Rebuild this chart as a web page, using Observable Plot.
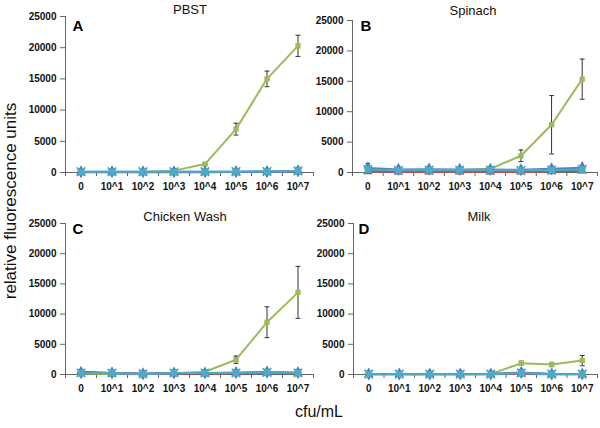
<!DOCTYPE html>
<html><head><meta charset="utf-8">
<script src="https://cdn.jsdelivr.net/npm/d3@7"></script>
<script src="https://cdn.jsdelivr.net/npm/@observablehq/plot@0.6"></script>
<style>
body{margin:0;background:#fff;font-family:"Liberation Sans",Arial,sans-serif}
#wrap{position:relative;width:600px;height:428px;overflow:hidden;background:#fff}
.p{position:absolute}
.t{position:absolute;font-size:13px;transform:translate(-50%,-50%);white-space:nowrap;color:#111}
.l{position:absolute;font-size:15px;font-weight:bold;transform:translate(-50%,-50%);color:#000}
.ax{position:absolute;font-size:16px;white-space:nowrap;color:#111;transform:translate(-50%,-50%)}
</style></head><body><div id="wrap"></div>
<script>
const categories = ["0","10^1","10^2","10^3","10^4","10^5","10^6","10^7"];
const yTicks = [0,5000,10000,15000,20000,25000];
const panelTitles = ["PBST","Spinach","Chicken Wash","Milk"];
const panelLetters = ["A","B","C","D"];
const seriesNames = ["green","red","purple","blue","cyan"];
const seriesColors = ["#9BBB59","#C0504D","#8064A2","#4F81BD","#4BACC6"];

// PBST
const pbstGreen    = [100,100,100,300,1350,6950,15000,20300];
const pbstGreenErr = [50,50,50,80,150,950,1250,1700];
const pbstRed      = [60,60,60,60,60,80,100,150];
const pbstPurple   = [80,80,80,80,80,100,120,200];
const pbstBlue     = [120,120,120,120,120,130,150,250];
const pbstCyan     = [130,130,130,130,130,140,160,250];

// Spinach
const spinGreen    = [300,250,300,350,600,2750,7850,15350];
const spinGreenErr = [150,100,100,100,100,950,4800,3300];
const spinRed      = [150,100,100,100,100,100,150,300];
const spinPurple   = [350,300,350,350,350,300,400,500];
const spinBlue     = [750,500,550,500,500,450,600,800];
const spinBlueErr  = [750,100,100,100,100,100,100,150];
const spinCyan     = [500,350,400,400,400,350,400,500];

// Chicken Wash
const chickGreen    = [150,100,50,200,450,2450,8650,13600];
const chickGreenErr = [100,50,50,50,100,600,2550,4300];
const chickRed      = [450,250,150,200,150,200,250,200];
const chickPurple   = [300,250,100,250,250,300,350,300];
const chickBlue     = [300,250,100,250,250,300,400,300];
const chickCyan     = [250,250,100,250,250,250,350,250];

// Milk
const milkGreen    = [50,50,50,50,100,1850,1650,2300];
const milkGreenErr = [30,30,30,30,30,350,350,850];
const milkRed      = [50,50,50,50,50,100,50,50];
const milkPurple   = [80,80,80,80,80,300,80,80];
const milkBlue     = [80,80,80,80,80,350,80,80];
const milkCyan     = [50,50,50,50,50,250,50,50];

const panels = [
  {series:[pbstGreen,pbstRed,pbstPurple,pbstBlue,pbstCyan], errs:[pbstGreenErr,null,null,null,null],
   left:0, top:0, w:320, h:200, ml:65, mr:7, mt:16, mb:28},
  {series:[spinGreen,spinRed,spinPurple,spinBlue,spinCyan], errs:[spinGreenErr,null,null,spinBlueErr,null],
   left:300, top:0, w:300, h:200, ml:52, mr:3, mt:20, mb:28},
  {series:[chickGreen,chickRed,chickPurple,chickBlue,chickCyan], errs:[chickGreenErr,null,null,null,null],
   left:0, top:200, w:320, h:200, ml:65, mr:7, mt:23, mb:26},
  {series:[milkGreen,milkRed,milkPurple,milkBlue,milkCyan], errs:[milkGreenErr,null,null,null,null],
   left:300, top:200, w:300, h:200, ml:53, mr:3, mt:23, mb:26}
];

const wrap = document.getElementById("wrap");

panels.forEach((p, pi) => {
  const marks = [
    Plot.axisY({ticks: yTicks, tickSize: 5, tickPadding: 4, tickFormat: d => String(d), label: null, stroke:"#666", fill:"#111", fontWeight:"bold"}),
    Plot.axisX({ticks: d3.range(9).map(i => i - 0.5), tickSize: 4, tickFormat: () => "", label: null, stroke:"#666"}),
    Plot.axisX({ticks: d3.range(8), tickSize: 0, tickPadding: 10, tickFormat: i => categories[i], label: null, fill:"#111", fontWeight:"bold"}),
    Plot.ruleX([-0.5], {stroke: "#666"}),
    Plot.ruleY([0], {stroke: "#666"})
  ];
  p.series.forEach((vals, si) => {
    const rows = vals.map((v, i) => ({i, v, e: p.errs[si] ? p.errs[si][i] : 0}));
    const c = seriesColors[si];
    if (p.errs[si]) {
      marks.push(Plot.ruleX(rows, {x: "i", y1: d => d.v - d.e, y2: d => d.v + d.e, stroke: "#333", strokeWidth: 1}));
      marks.push(Plot.link(rows, {x1: d => d.i - 0.08, x2: d => d.i + 0.08, y1: d => d.v + d.e, y2: d => d.v + d.e, stroke: "#333"}));
      marks.push(Plot.link(rows, {x1: d => d.i - 0.08, x2: d => d.i + 0.08, y1: d => d.v - d.e, y2: d => d.v - d.e, stroke: "#333"}));
    }
    marks.push(Plot.line(rows, {x: "i", y: "v", stroke: c, strokeWidth: 2}));
    const name = seriesNames[si];
    if (name === "green") marks.push(Plot.dot(rows, {x: "i", y: "v", symbol: "square", r: 3, fill: c}));
    if (name === "red") marks.push(Plot.dot(rows, {x: "i", y: "v", symbol: "triangle", r: 3.5, fill: c}));
    if (name === "purple") marks.push(Plot.dot(rows, {x: "i", y: "v", symbol: "times", r: 3.5, stroke: c, strokeWidth: 1.5}));
    if (name === "blue") marks.push(Plot.dot(rows, {x: "i", y: "v", symbol: "diamond", r: 4, fill: c}));
    if (name === "cyan") {
      marks.push(Plot.dot(rows, {x: "i", y: "v", symbol: "square", r: 3.6, fill: c}));
      marks.push(Plot.dot(rows, {x: "i", y: "v", symbol: "times", r: 4, stroke: c, strokeWidth: 1.5}));
    }
  });
  const svg = Plot.plot({
    width: p.w, height: p.h,
    marginLeft: p.ml, marginRight: p.mr, marginTop: p.mt, marginBottom: p.mb,
    style: {fontFamily: "Liberation Sans, Arial, sans-serif", fontSize: "10px", background: "transparent", overflow: "visible"},
    x: {type: "linear", domain: [-0.5, 7.5], axis: null},
    y: {domain: [0, 25000], axis: null},
    marks
  });
  svg.classList.add("p");
  svg.style.left = p.left + "px";
  svg.style.top = p.top + "px";
  wrap.appendChild(svg);
});

function addText(cls, txt, x, y, extra) {
  const d = document.createElement("div");
  d.className = cls;
  d.textContent = txt;
  d.style.left = x + "px";
  d.style.top = y + "px";
  if (extra) Object.assign(d.style, extra);
  wrap.appendChild(d);
}
const titlePos = [[190,9],[473,10],[185,216],[479,216]];
panelTitles.forEach((t, i) => addText("t", t, titlePos[i][0], titlePos[i][1]));
const letterPos = [[78,25],[366,25],[78,228],[364,228]];
panelLetters.forEach((t, i) => addText("l", t, letterPos[i][0], letterPos[i][1]));
addText("ax", "relative fluorescence units", 11, 201, {transform: "translate(-50%,-50%) rotate(-90deg)", fontSize: "17px"});
addText("ax", "cfu/mL", 319, 412);
</script></body></html>
